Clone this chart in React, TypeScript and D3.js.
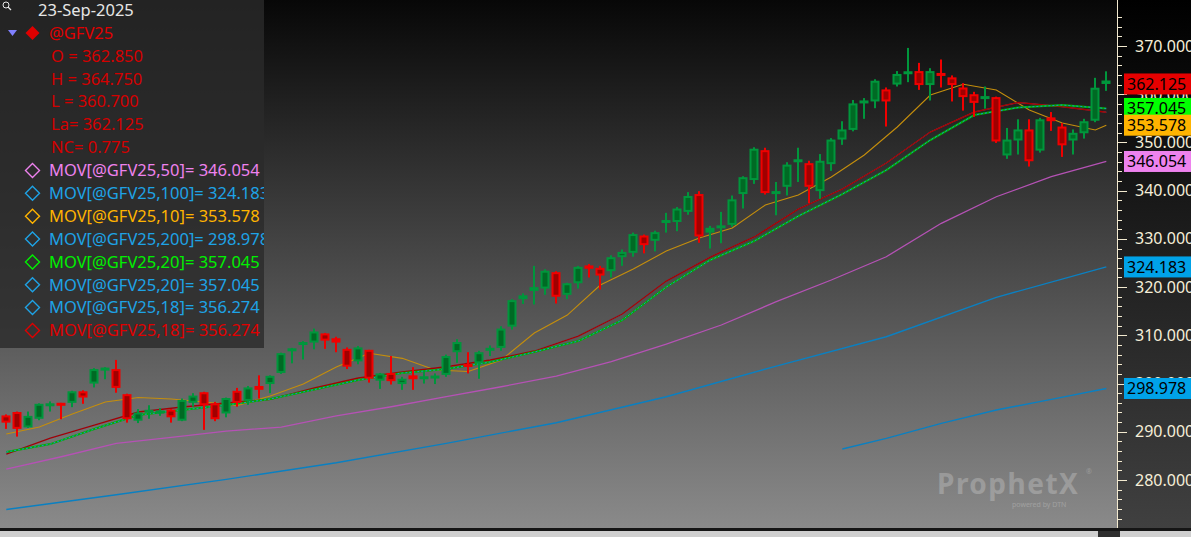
import * as d3 from "d3";

// @GFV25 daily bars, last bar = 23-Sep-2025
const opens = [
  293.4, 294.1, 290.9, 292.7, 295.3, 295.9, 296.0, 298.4, 300.0, 302.8,
  303.0, 297.8, 292.3, 294.4, 294.0, 294.6, 292.3, 296.0, 298.2, 295.9,
  293.8, 298.5, 296.4, 299.5, 299.9, 302.2, 306.8, 308.0, 308.5, 310.4,
  309.4, 307.2, 304.6, 307.0, 300.6, 302.2, 299.9, 301.7, 301.0, 301.1,
  301.8, 306.5, 304.0, 304.2, 306.8, 307.4, 311.8, 317.5, 319.2, 319.7,
  323.1, 318.4, 320.8, 324.5, 324.0, 323.3, 326.2, 327.1, 330.7, 329.6,
  333.4, 333.5, 335.6, 339.3, 331.3, 332.3, 332.9, 339.3, 342.2, 348.4,
  339.3, 340.8, 345.9, 345.7, 339.9, 345.5, 350.6, 352.6, 358.1, 358.5,
  361.0, 362.0, 364.3, 364.8, 361.9, 364.3, 363.5, 361.4, 360.0, 359.0,
  359.4, 347.3, 350.4, 352.7, 348.3, 355.2, 353.3, 350.4, 351.9, 354.5,
  362.85,
];
const highs = [
  293.6, 294.2, 294.2, 295.9, 296.3, 296.0, 298.5, 298.6, 303.2, 303.4,
  304.9, 297.9, 294.7, 295.5, 294.9, 294.7, 296.9, 298.0, 298.3, 296.2,
  297.1, 299.1, 299.5, 301.7, 301.7, 306.4, 307.4, 308.8, 311.4, 310.5,
  309.7, 307.5, 307.8, 307.0, 302.2, 305.7, 301.4, 303.4, 302.5, 302.1,
  306.0, 309.2, 306.5, 306.8, 307.9, 311.9, 317.5, 318.7, 324.4, 323.7,
  323.3, 320.9, 324.4, 324.8, 324.4, 326.6, 327.8, 331.3, 330.9, 331.7,
  335.4, 336.6, 339.7, 339.9, 332.7, 335.6, 339.0, 343.0, 349.0, 348.9,
  341.8, 345.9, 348.9, 346.2, 347.6, 350.9, 354.4, 358.8, 359.2, 363.1,
  361.4, 364.8, 369.6, 366.5, 365.4, 367.2, 363.9, 362.3, 360.5, 361.6,
  359.5, 353.0, 354.8, 354.8, 355.1, 356.3, 354.0, 352.7, 354.9, 363.4,
  364.75,
];
const lows = [
  290.6, 289.0, 290.8, 292.4, 294.2, 292.6, 295.1, 295.8, 299.2, 300.9,
  298.1, 291.9, 291.8, 292.7, 293.3, 291.9, 292.2, 295.2, 290.4, 292.2,
  293.0, 295.2, 295.6, 296.9, 298.0, 302.0, 304.2, 305.0, 307.1, 307.2,
  306.5, 303.0, 304.0, 300.2, 298.9, 299.8, 298.7, 298.7, 300.0, 299.9,
  301.4, 304.3, 302.1, 301.0, 305.7, 306.8, 311.2, 316.5, 316.4, 318.4,
  316.6, 317.5, 319.7, 322.0, 319.5, 322.0, 324.4, 326.3, 327.0, 327.4,
  331.3, 331.6, 335.0, 329.2, 328.0, 329.1, 332.5, 336.3, 341.4, 339.2,
  334.9, 339.0, 341.8, 337.4, 338.3, 344.1, 349.5, 352.3, 354.9, 357.1,
  353.3, 361.6, 362.5, 360.9, 358.7, 361.4, 358.5, 356.6, 355.3, 357.0,
  349.9, 346.6, 347.5, 345.0, 347.9, 352.4, 347.0, 347.5, 350.8, 354.2,
  360.7,
];
const closes = [
  291.9, 290.6, 293.3, 295.8, 295.9, 295.5, 298.4, 297.1, 303.0, 303.2,
  299.1, 292.6, 294.0, 294.1, 294.2, 293.0, 296.6, 297.5, 295.5, 292.6,
  297.0, 296.0, 299.2, 298.7, 301.6, 306.3, 307.2, 308.6, 310.8, 308.9,
  308.5, 303.5, 307.5, 301.0, 302.1, 300.5, 301.0, 300.9, 301.4, 301.6,
  305.7, 308.6, 303.5, 306.5, 307.4, 311.4, 317.3, 318.3, 320.0, 323.4,
  318.0, 320.8, 324.2, 323.8, 322.4, 326.2, 327.3, 331.0, 328.7, 331.4,
  333.8, 336.3, 338.9, 330.5, 332.3, 332.7, 338.2, 342.8, 348.7, 339.5,
  339.9, 345.4, 346.5, 340.8, 346.2, 350.6, 352.7, 358.1, 358.7, 362.8,
  358.5, 364.2, 364.6, 361.9, 364.8, 363.9, 361.9, 359.4, 358.2, 359.6,
  350.2, 350.6, 352.7, 346.1, 354.8, 354.4, 349.4, 352.0, 354.4, 361.35,
  362.125,
];

// moving-average lines, read at the listed bar numbers
const ma10Bars = [1, 4, 7, 10, 13, 16, 19, 22, 25, 28, 31, 34, 37, 40, 43, 46, 49, 52, 55, 58, 61, 64, 67, 70, 73, 76, 79, 82, 85, 88, 91, 94, 97, 100, 101];
const ma10 = [
  289.53, 290.98, 293.68, 296.17, 297.1, 296.79, 296.17, 295.48, 297.41, 299.9,
  303.42, 306.27, 305.23, 302.8, 302.49, 304.88, 310.48, 314.21, 320.43, 323.75,
  327.48, 330.18, 332.25, 337.02, 339.1, 342.83, 347.39, 353.2, 359.84, 362.06,
  360.87, 356.73, 354.03, 352.58, 353.578,
];
const ma18Bars = [1, 5, 9, 13, 17, 21, 25, 29, 33, 37, 41, 45, 49, 53, 57, 61, 65, 69, 73, 77, 81, 85, 89, 93, 97, 101];
const ma18 = [
  285.38, 288.7, 291.39, 294.09, 295.13, 295.96, 296.73, 299.07, 301.14, 302.39,
  303.49, 304.88, 306.74, 309.85, 314.42, 321.26, 326.24, 330.39, 336.19, 340.34,
  345.73, 352.16, 356.31, 358.28, 357.41, 356.274,
];
const ma20 = [
  285.8, 287.45, 290.57, 293.47, 294.51, 295.54, 296.79, 298.76, 300.73, 302.18,
  303.01, 304.46, 306.54, 308.82, 313.17, 320.02, 325.62, 329.56, 334.74, 339.3,
  344.28, 350.5, 355.69, 357.24, 357.76, 357.045,
];
const ma50Bars = [1, 6, 11, 16, 21, 26, 31, 36, 41, 46, 51, 56, 61, 66, 71, 76, 81, 86, 91, 96, 101];
const ma50 = [
  282.27, 284.82, 287.6, 288.84, 290.15, 290.98, 293.32, 295.19, 297.27, 299.34,
  301.56, 304.53, 308.19, 312.14, 316.97, 321.47, 326.3, 333.23, 338.74, 342.89,
  346.054,
];
const ma100Bars = [1, 11, 21, 31, 41, 51, 61, 71, 81, 91, 101];
const ma100 = [273.87, 276.94, 280.13, 283.58, 287.6, 291.88, 297.27, 303.63, 309.71, 317.88, 324.183];
const ma200Bars = [77, 81, 86, 91, 96, 101];
const ma200 = [286.42, 288.64, 291.75, 294.51, 296.72, 298.978];

const symbol = "@GFV25";
const lastDate = "23-Sep-2025";
const quoteLabels = ["O = 362.850", "H = 364.750", "L = 360.700", "La= 362.125", "NC= 0.775"];
const studyNames = [
  "MOV[@GFV25,50]", "MOV[@GFV25,100]", "MOV[@GFV25,10]", "MOV[@GFV25,200]",
  "MOV[@GFV25,20]", "MOV[@GFV25,20]", "MOV[@GFV25,18]", "MOV[@GFV25,18]",
];
const studyValues = [346.054, 324.183, 353.578, 298.978, 357.045, 357.045, 356.274, 356.274];
const axisLabels = [280, 290, 300, 310, 320, 330, 340, 350, 360, 370];

const RED = "#e00000";
const BLUE = "#1ea3e6";
const studyColors = ["#ee82ee", BLUE, "#ffb400", BLUE, "#00f000", BLUE, BLUE, RED];

const W = 1191;
const H = 537;
const PLOT_R = 1117;
const PLOT_B = 528;
const FONT = "'Noto Sans', 'Open Sans', sans-serif";
const FS = 16.5;

export default function App() {
  const x = d3.scaleLinear().domain([1, 101]).range([6.3, 1106.3]);
  const y = d3.scaleLinear().domain([280, 370]).range([480, 46]);
  const fmt = d3.format(".3f");

  const path = (bars: number[], vals: number[]) =>
    d3
      .line<number>()
      .x((_, i) => x(bars[i]))
      .y((v) => y(v))(vals) || "";

  const minorTicks = d3.range(270, 378, 2);

  // right-axis tags, drawn in this order (later ones on top)
  const tags = [
    { v: studyValues[7], c: RED },
    { v: studyValues[6], c: BLUE },
    { v: studyValues[5], c: BLUE },
    { v: closes[closes.length - 1], c: "#e60000" },
    { v: studyValues[4], c: "#00ff00" },
    { v: studyValues[2], c: "#ffb400" },
    { v: studyValues[0], c: "#ee82ee" },
    { v: studyValues[1], c: "#00a2e8" },
    { v: studyValues[3], c: "#00a2e8" },
  ];

  return (
    <div>
      <style>{"body{margin:0;overflow:hidden;background:#000}"}</style>
      <svg width={W} height={H} style={{ display: "block" }} fontFamily={FONT}>
        <defs>
          <linearGradient id="bg" x1="0" y1="0" x2="0" y2="1">
            <stop offset="0%" stopColor="#070707" />
            <stop offset="100%" stopColor="#8a8a8a" />
          </linearGradient>
          <linearGradient id="axbg" x1="0" y1="0" x2="0" y2="1">
            <stop offset="0%" stopColor="#000000" />
            <stop offset="100%" stopColor="#404040" />
          </linearGradient>
          <clipPath id="plot">
            <rect x={0} y={0} width={PLOT_R} height={PLOT_B} />
          </clipPath>
          <clipPath id="legend">
            <rect x={0} y={0} width={264} height={348} />
          </clipPath>
          <clipPath id="axis">
            <rect x={PLOT_R} y={0} width={W - PLOT_R} height={PLOT_B} />
          </clipPath>
        </defs>

        <rect x={0} y={0} width={PLOT_R} height={PLOT_B} fill="url(#bg)" />
        <rect x={PLOT_R} y={0} width={W - PLOT_R} height={PLOT_B} fill="url(#axbg)" />

        <g clipPath="url(#plot)">
          {/* watermark */}
          <g fill="#ffffff" opacity={0.22}>
            <text x={937} y={494} fontSize={28} fontWeight={700} letterSpacing={1.5}>ProphetX</text>
            <text x={1086} y={474} fontSize={7}>®</text>
            <text x={1012} y={507} fontSize={7}>powered by DTN</text>
          </g>

          <g fill="none">
            <path d={path(ma100Bars, ma100)} stroke="#0a80c2" strokeWidth={1.4} />
            <path d={path(ma200Bars, ma200)} stroke="#0a80c2" strokeWidth={1.4} />
            <path d={path(ma50Bars, ma50)} stroke="#b552b5" strokeWidth={1.3} />
            <path d={path(ma10Bars, ma10)} stroke="#c58e0c" strokeWidth={1.1} />
            <path d={path(ma18Bars, ma18)} stroke="#1a8fd0" strokeWidth={1} />
            <path d={path(ma18Bars, ma18)} stroke="#a80000" strokeWidth={1.4} />
            <path d={path(ma18Bars, ma20)} stroke="#00b000" strokeWidth={2} />
            <path d={path(ma18Bars, ma20)} stroke="#1a8fd0" strokeWidth={1} strokeDasharray="2 2" />
          </g>

          {closes.map((c, i) => {
            const o = opens[i];
            const up = i === 0 ? c >= o : c > closes[i - 1];
            const edge = up ? "#00963c" : "#f00000";
            const inner = up ? "#006a24" : "#a00000";
            const cx = Math.round(x(i + 1));
            let top = y(Math.max(o, c));
            let h = y(Math.min(o, c)) - top;
            if (h < 3) {
              top = top + h / 2 - 1.5;
              h = 3;
            }
            return (
              <g key={i}>
                <rect x={cx - 1} y={y(highs[i])} width={2} height={y(lows[i]) - y(highs[i])} fill={edge} />
                <rect x={cx - 4.5} y={top} width={9} height={h} fill={edge} />
                {h > 5 && <rect x={cx - 2.5} y={top + 2} width={5} height={h - 4} fill={inner} />}
              </g>
            );
          })}
        </g>

        {/* legend panel */}
        <g clipPath="url(#legend)">
          <rect x={0} y={0} width={264} height={348} fill="rgb(42,42,42)" fillOpacity={0.8} />
          <circle cx={6} cy={5} r={3} fill="none" stroke="#e8e8e8" strokeWidth={1} />
          <line x1={8} y1={7} x2={11} y2={10} stroke="#e8e8e8" strokeWidth={1.2} />
          <text x={38} y={10} dy="0.35em" fontSize={FS} fill="#e6e6e6">{lastDate}</text>
          <polygon points="8,30 17,30 12.5,36" fill="#8080ff" />
          <polygon points="32.5,26 39.5,33 32.5,40 25.5,33" fill={RED} />
          <text x={49} y={33} dy="0.35em" fontSize={FS} fill={RED}>{symbol}</text>
          {quoteLabels.map((t, i) => (
            <text key={t} x={51} y={56 + i * 22.85} dy="0.35em" fontSize={FS} fill="#d40000">
              {t}
            </text>
          ))}
          {studyNames.map((n, i) => {
            const cy = 170.5 + i * 22.85;
            return (
              <g key={i}>
                <polygon
                  points={`32.5,${cy - 7} 39.5,${cy} 32.5,${cy + 7} 25.5,${cy}`}
                  fill="none"
                  stroke={studyColors[i]}
                  strokeWidth={1.4}
                />
                <text x={49} y={cy} dy="0.35em" fontSize={FS} fill={studyColors[i]}>
                  {`${n}= ${fmt(studyValues[i])}`}
                </text>
              </g>
            );
          })}
        </g>

        {/* right price axis */}
        <g clipPath="url(#axis)">
          <line x1={PLOT_R + 0.5} y1={0} x2={PLOT_R + 0.5} y2={PLOT_B} stroke="#f3ead0" />
          {minorTicks.map((v) => (
            <line
              key={v}
              x1={PLOT_R}
              x2={PLOT_R + (v % 10 === 0 ? 10 : 5)}
              y1={Math.round(y(v)) + 0.5}
              y2={Math.round(y(v)) + 0.5}
              stroke="#f3ead0"
            />
          ))}
          {axisLabels.map((v) => (
            <text key={v} x={1135} y={y(v)} dy="0.35em" fontSize={16} fill="#f5eed8">
              {fmt(v)}
            </text>
          ))}
          {tags.map((t, i) => (
            <g key={i}>
              <rect x={1124} y={y(t.v) - 10.5} width={W - 1124} height={21} fill={t.c} />
              <text x={1127} y={y(t.v)} dy="0.36em" fontSize={16} fill="#000">
                {fmt(t.v)}
              </text>
            </g>
          ))}
        </g>

        {/* bottom scroll strip */}
        <rect x={0} y={PLOT_B} width={W} height={3} fill="#151515" />
        <rect x={0} y={PLOT_B + 3} width={W} height={H - PLOT_B - 3} fill="#cfcfcf" />
        <rect x={1098} y={PLOT_B + 3} width={22} height={H - PLOT_B - 3} fill="#2e2e2e" />
      </svg>
    </div>
  );
}
